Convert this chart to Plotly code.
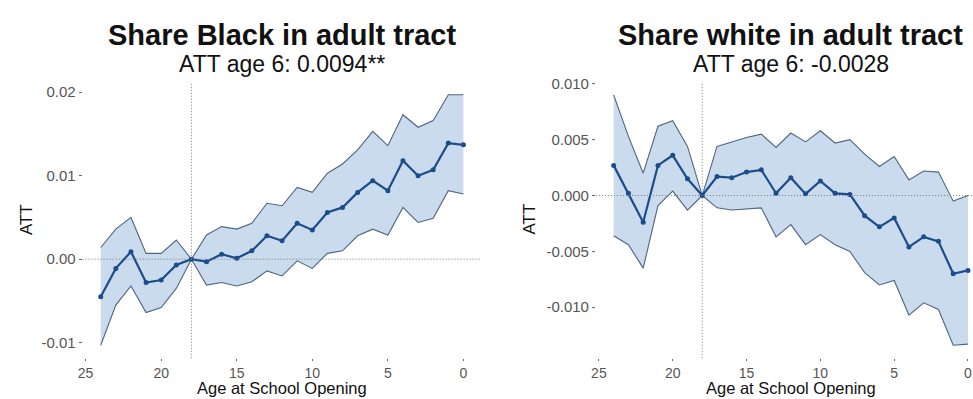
import plotly.graph_objects as go

# Event-study estimates by age at school opening (reference age 18)
ages = [24, 23, 22, 21, 20, 19, 18, 17, 16, 15, 14, 13, 12,
        11, 10, 9, 8, 7, 6, 5, 4, 3, 2, 1, 0]

black_att = [-0.0045, -0.0011, 0.0009, -0.0028, -0.0025, -0.0007, 0.0, -0.0003,
             0.0006, 0.0001, 0.0010, 0.0028, 0.0022, 0.0043, 0.0035, 0.0056,
             0.0062, 0.0080, 0.0094, 0.0082, 0.0118, 0.0100, 0.0107, 0.0139, 0.0137]
black_hi = [0.0014, 0.0036, 0.0050, 0.0007, 0.0007, 0.0023, 0.0, 0.0029,
            0.0039, 0.0036, 0.0043, 0.0067, 0.0064, 0.0086, 0.0080, 0.0103,
            0.0114, 0.0131, 0.0153, 0.0136, 0.0173, 0.0158, 0.0166, 0.0197, 0.0197]
black_lo = [-0.0103, -0.0055, -0.0032, -0.0064, -0.0058, -0.0035, 0.0, -0.0031,
            -0.0028, -0.0032, -0.0027, -0.0014, -0.0020, -0.0002, -0.0011, 0.0007,
            0.0010, 0.0028, 0.0036, 0.0029, 0.0062, 0.0044, 0.0049, 0.0082, 0.0078]

white_att = [0.0027, 0.0002, -0.0024, 0.0027, 0.0036, 0.0015, 0.0, 0.0017,
             0.0016, 0.0021, 0.0023, 0.0002, 0.0016, 0.00015, 0.0013, 0.0002,
             0.0001, -0.0018, -0.0028, -0.0020, -0.0046, -0.0037, -0.0041, -0.0070, -0.0067]
white_hi = [0.0090, 0.0053, 0.0020, 0.0062, 0.0067, 0.0044, 0.0, 0.0044,
            0.0048, 0.0052, 0.0055, 0.0043, 0.0056, 0.0048, 0.0058, 0.0047,
            0.0050, 0.0037, 0.0026, 0.0035, 0.0014, 0.0022, 0.0021, -0.0005, 0.0000]
white_lo = [-0.0036, -0.0044, -0.0065, -0.0009, 0.0004, -0.0013, 0.0, -0.0011,
            -0.0013, -0.0012, -0.0011, -0.0037, -0.0026, -0.0044, -0.0035, -0.0044,
            -0.0050, -0.0069, -0.0080, -0.0076, -0.0107, -0.0096, -0.0102, -0.0134, -0.0133]

x_ticks = [0, 5, 10, 15, 20, 25]
black_yticks = [-0.01, 0.0, 0.01, 0.02]
black_ylabels = ["-0.01", "0.00", "0.01", "0.02"]
white_yticks = [-0.010, -0.005, 0.0, 0.005, 0.010]
white_ylabels = ["-0.010", "-0.005", "0.000", "0.005", "0.010"]

panels = [
    dict(title="Share Black in adult tract", sub="ATT age 6: 0.0094**",
         att=black_att, hi=black_hi, lo=black_lo, xa="x", ya="y"),
    dict(title="Share white in adult tract", sub="ATT age 6: -0.0028",
         att=white_att, hi=white_hi, lo=white_lo, xa="x2", ya="y2"),
]

W, H = 973, 399
FONT = "Liberation Sans, Arial, Helvetica, sans-serif"
BAND_FILL = "rgba(192,211,234,0.82)"
BAND_LINE = "#4e6580"
EST_COLOR = "#1b4c8c"

fig = go.Figure()
for p in panels:
    fig.add_trace(go.Scatter(x=ages, y=p["hi"], mode="lines",
                             line=dict(color=BAND_LINE, width=1.1),
                             xaxis=p["xa"], yaxis=p["ya"], showlegend=False,
                             hoverinfo="skip"))
    fig.add_trace(go.Scatter(x=ages, y=p["lo"], mode="lines", fill="tonexty",
                             fillcolor=BAND_FILL,
                             line=dict(color=BAND_LINE, width=1.1),
                             xaxis=p["xa"], yaxis=p["ya"], showlegend=False,
                             hoverinfo="skip"))
    fig.add_trace(go.Scatter(x=ages, y=p["att"], mode="lines+markers",
                             line=dict(color=EST_COLOR, width=2.2),
                             marker=dict(color=EST_COLOR, size=5),
                             xaxis=p["xa"], yaxis=p["ya"], showlegend=False))

# plot areas in pixels
left_x0, left_x1 = 78, 479
right_x0, right_x1 = 594, 973
y_top, y_bot = 76.5, 357

def px_x(v):
    return v / W

def px_y(v):
    return 1 - v / H

ydom = [px_y(y_bot), px_y(y_top)]

tick_style = dict(showgrid=False, zeroline=False, showline=False,
                  ticks="outside", tickwidth=1, tickcolor="#666666")
x_style = dict(ticklen=2, tickfont=dict(family=FONT, size=14, color="#555555"),
               **tick_style)
y_style = dict(ticklen=3, tickfont=dict(family=FONT, size=15, color="#555555"),
               **tick_style)

fig.update_layout(
    width=W, height=H, margin=dict(l=0, r=0, t=0, b=0),
    paper_bgcolor="white", plot_bgcolor="white",
    xaxis=dict(domain=[px_x(left_x0), px_x(left_x1)], range=[25.2, -1.2],
               tickvals=x_ticks, anchor="y", **x_style),
    yaxis=dict(domain=ydom, range=[-0.0118, 0.0212], tickvals=black_yticks,
               ticktext=black_ylabels, anchor="x", **y_style),
    xaxis2=dict(domain=[px_x(right_x0), 1.0], range=[25.2, -0.34],
                tickvals=x_ticks, anchor="y2", **x_style),
    yaxis2=dict(domain=ydom, range=[-0.01452, 0.01015], tickvals=white_yticks,
                ticktext=white_ylabels, anchor="x2", **y_style),
)

# dotted reference lines at age 18 and at zero
DOT = dict(color="#777777", width=1, dash="1px,2px")
for xa, ya in (("x", "y"), ("x2", "y2")):
    fig.add_shape(type="line", xref=xa, yref=f"{ya} domain", x0=18, x1=18,
                  y0=0, y1=1, line=DOT)
    fig.add_shape(type="line", xref=f"{xa} domain", yref=ya, x0=0, x1=1,
                  y0=0, y1=0, line=DOT)

# titles, subtitles and axis titles
centers = [(left_x0 + left_x1) / 2, 790]
ytitle_x = [21, 527]
for p, cx, yx in zip(panels, centers, ytitle_x):
    fig.add_annotation(text=f"<b>{p['title']}</b>", x=px_x(cx), y=px_y(28),
                       xref="paper", yref="paper", showarrow=False,
                       xanchor="center", yanchor="middle",
                       font=dict(family=FONT, size=29, color="#111111"))
    fig.add_annotation(text=p["sub"], x=px_x(cx), y=px_y(58),
                       xref="paper", yref="paper", showarrow=False,
                       xanchor="center", yanchor="middle",
                       font=dict(family=FONT, size=23, color="#111111"))
    fig.add_annotation(text="Age at School Opening", x=px_x(cx), y=px_y(388),
                       xref="paper", yref="paper", showarrow=False,
                       xanchor="center", yanchor="middle",
                       font=dict(family=FONT, size=16.5, color="#111111"))
    fig.add_annotation(text="ATT", x=px_x(yx), y=px_y(216), textangle=-90,
                       xref="paper", yref="paper", showarrow=False,
                       xanchor="center", yanchor="middle",
                       font=dict(family=FONT, size=17, color="#111111"))

fig.write_html("out.html")
